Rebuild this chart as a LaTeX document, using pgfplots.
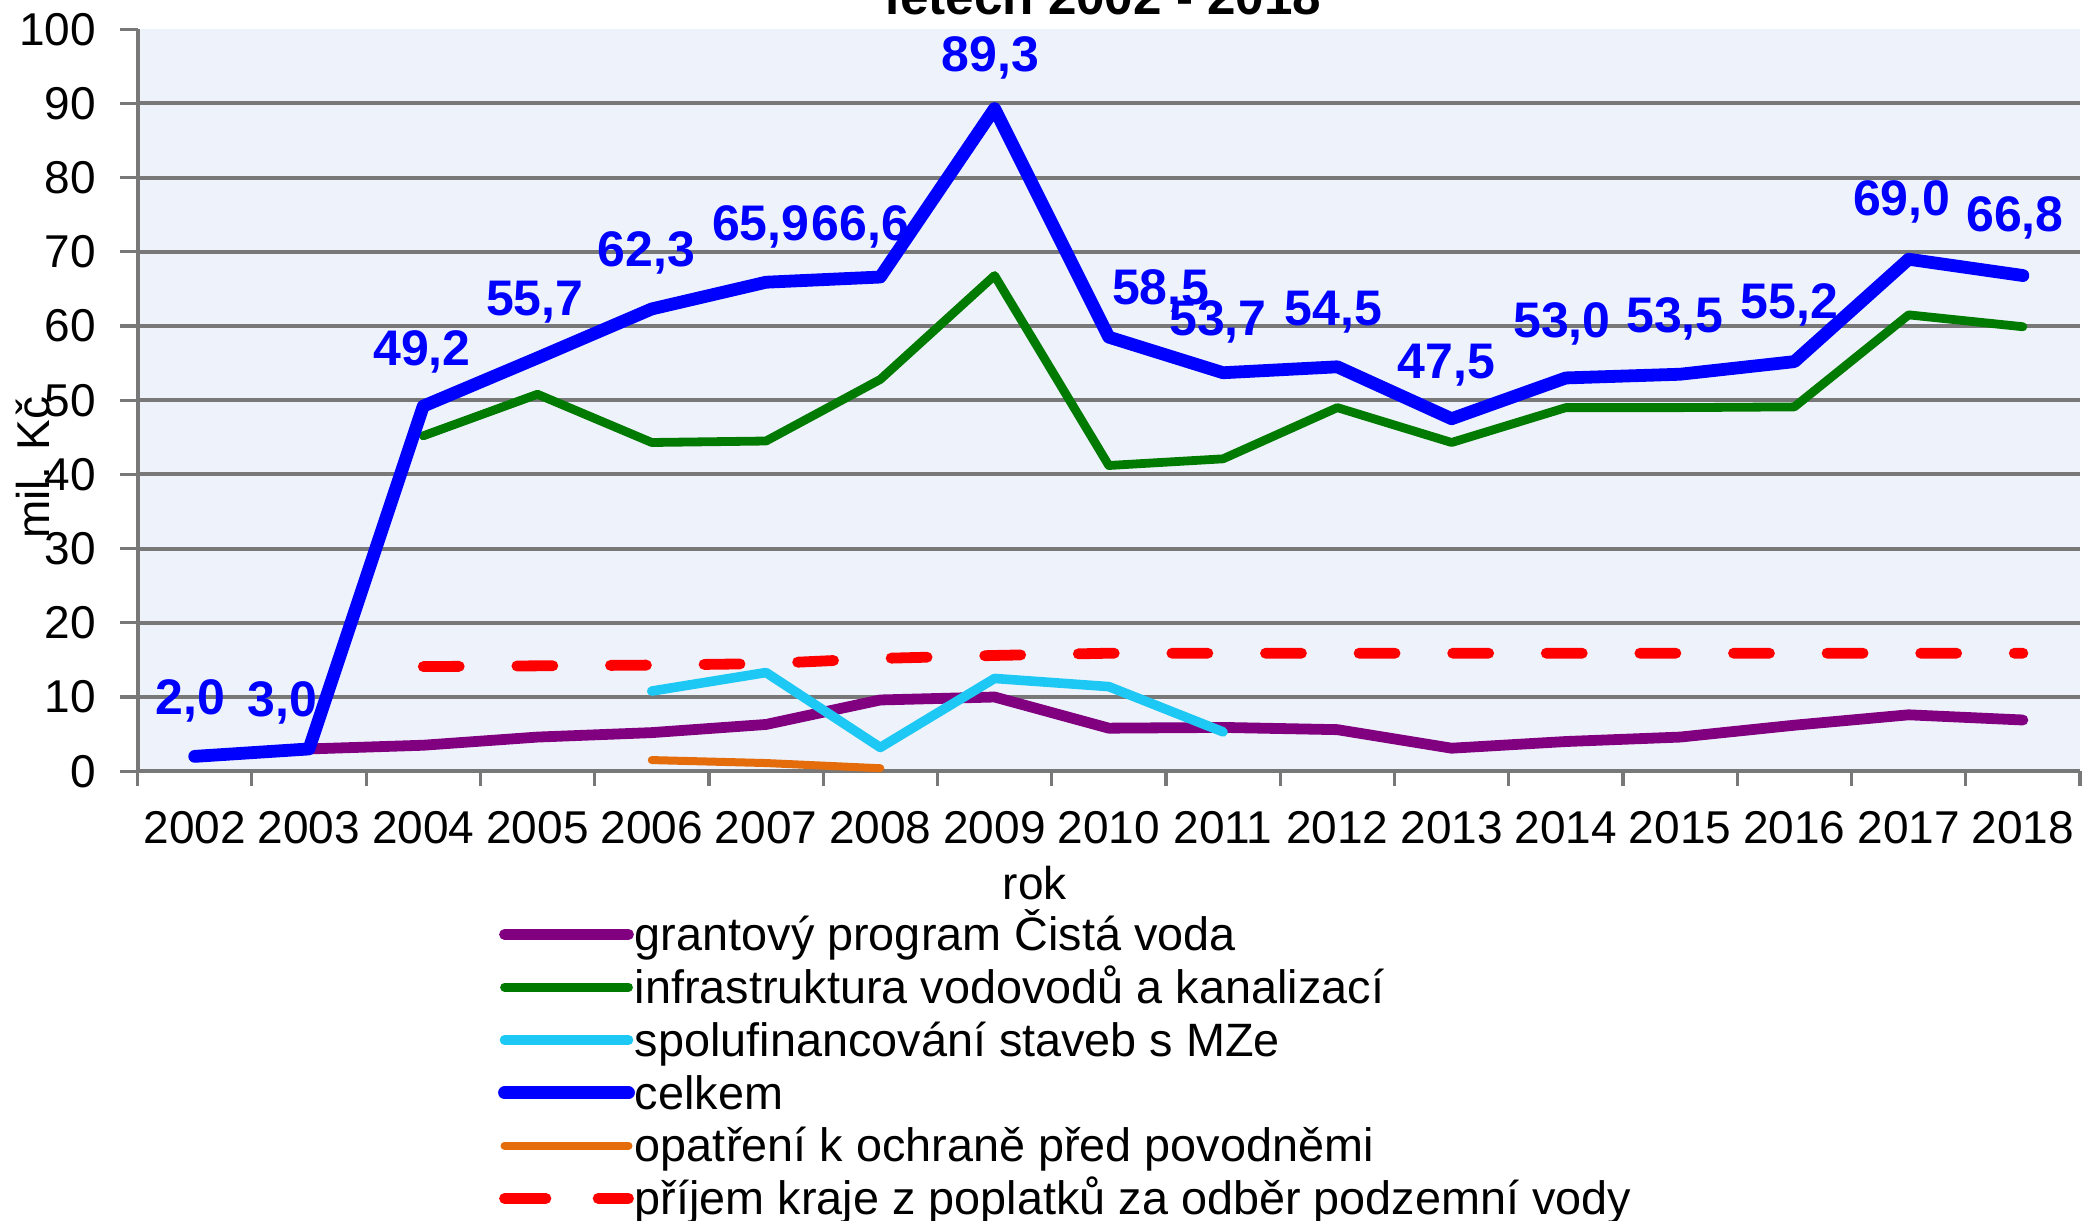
\documentclass[border=0pt]{standalone}
\usepackage{fontspec}
\setmainfont{Liberation Sans}
\usepackage{pgfplots}
\usepackage{pgfplotstable}
\pgfplotsset{compat=1.18}

\definecolor{cpurple}{RGB}{128,0,128}
\definecolor{cgreen}{RGB}{0,122,0}
\definecolor{ccyan}{RGB}{30,200,245}
\definecolor{cblue}{RGB}{0,0,255}
\definecolor{corange}{RGB}{228,108,10}
\definecolor{cred}{RGB}{255,0,0}
\definecolor{cgrid}{RGB}{120,120,120}
\definecolor{cbg}{RGB}{238,243,251}

\pgfplotstableread{
x y
1 3.0
2 3.5
3 4.6
4 5.2
5 6.3
6 9.6
7 10.0
8 5.8
9 5.9
10 5.6
11 3.1
12 4.0
13 4.6
14 6.2
15 7.6
16 6.9
}\grant

\pgfplotstableread{
x y
2 45.2
3 50.8
4 44.3
5 44.5
6 52.8
7 66.8
8 41.2
9 42.1
10 49.0
11 44.3
12 49.0
13 49.0
14 49.1
15 61.5
16 59.9
}\infra

\pgfplotstableread{
x y
4 10.8
5 13.3
6 3.2
7 12.5
8 11.4
9 5.3
}\spolu

\pgfplotstableread{
x y lab dx dy
0 2.0 {2,0} -1.0 10.5
1 3.0 {3,0} -6.6 8.2
2 49.2 {49,2} -0.3 10.2
3 55.7 {55,7} -0.7 10.5
4 62.3 {62,3} -1.3 10.5
5 65.9 {65,9} -1.3 10.4
6 66.6 {66,6} -5.0 9.1
7 89.3 {89,3} -1.0 9.2
8 58.5 {58,5} 13.0 8.1
9 53.7 {53,7} -1.3 9.3
10 54.5 {54,5} -1.0 10.4
11 47.5 {47,5} -1.3 10.0
12 53.0 {53,0} -1.0 10.0
13 53.5 {53,5} -1.3 10.5
14 55.2 {55,2} -1.3 10.7
15 69.0 {69,0} -1.7 10.9
16 66.8 {66,8} -2.0 11.0
}\celkem

\pgfplotstableread{
x y
4 1.5
5 1.1
6 0.4
}\opatreni

\pgfplotstableread{
x y
2 14.1
3 14.2
4 14.3
5 14.5
6 15.2
7 15.6
8 15.9
9 15.9
10 15.9
11 15.9
12 15.9
13 15.9
14 15.9
15 15.9
16 15.9
}\prijem

\begin{document}
\begin{tikzpicture}
\begin{axis}[
  scale only axis, width=485.6pt, height=185.5pt,
  at={(0pt,0pt)}, anchor=south west,
  xmin=-0.5, xmax=16.5, ymin=0, ymax=100,
  clip=false,
  axis x line*=bottom, axis y line*=left,
  axis line style={cgrid, line width=1.0pt},
  axis background/.style={fill=cbg},
  xtick={0,...,16},
  xticklabels={2002,2003,2004,2005,2006,2007,2008,2009,2010,2011,2012,2013,2014,2015,2016,2017,2018},
  minor xtick={-0.5,0.5,...,16.5},
  ytick={0,10,...,100},
  extra y ticks={10,20,...,90}, extra y tick labels={},
  extra y tick style={grid=major},
  grid style={cgrid, line width=1.0pt},
  tick align=outside,
  major tick length=4.4pt, minor tick length=3.7pt,
  major x tick style={draw=none},
  minor x tick style={cgrid, line width=0.8pt},
  major y tick style={cgrid, line width=0.8pt},
  tick label style={font=\fontsize{11.5}{13}\selectfont},
  /pgf/number format/assume math mode=true,
  xticklabel style={yshift=-2pt},
  yticklabel style={xshift=-2.5pt},
  legend style={at={(0.1852,-0.1935)}, anchor=north west, draw=none, fill=none,
    inner sep=0pt, row sep=1.8pt, font=\fontsize{11.7}{13}\selectfont,
    nodes={inner sep=0pt, text height=8.8pt, text depth=2.6pt}},
  legend cell align=left,
  legend image code/.code={\path (0pt,1pt) -- (31pt,1pt); \draw[#1] (1.35pt,1pt) -- (29.6pt,1pt);},
  every axis plot/.append style={line cap=round, line join=round},
]
\addplot[cpurple, line width=2.7pt] table[x=x,y=y] \grant;
\addlegendentry{grantový program Čistá voda}
\addplot[cgreen, line width=2.2pt] table[x=x,y=y] \infra;
\addlegendentry{infrastruktura vodovodů a kanalizací}
\addplot[ccyan, line width=2.4pt] table[x=x,y=y] \spolu;
\addlegendentry{spolufinancování staveb s MZe}
\addplot[cblue, line width=3.2pt,
  nodes near coords, point meta=explicit symbolic,
  visualization depends on={\thisrow{dx} \as \dx},
  visualization depends on={\thisrow{dy} \as \dy},
  every node near coord/.append style={anchor=base, inner sep=0pt,
    font=\bfseries\fontsize{12.5}{14}\selectfont, text=cblue,
    xshift=\dx pt, yshift=\dy pt}
] table[x=x,y=y,meta=lab] \celkem;
\addlegendentry{celkem}
\addplot[corange, line width=2.0pt] table[x=x,y=y] \opatreni;
\addlegendentry{opatření k ochraně před povodněmi}
\addplot[cred, line width=2.7pt, dash pattern=on 9pt off 14.4pt] table[x=x,y=y] \prijem;
\addlegendentry{příjem kraje z poplatků za odběr podzemní vody}
\end{axis}
\node[rotate=90, font=\fontsize{11.5}{13}\selectfont] at (-26.1pt,75.9pt) {mil. Kč};
\node[anchor=base, font=\fontsize{11.5}{13}\selectfont] at (224.3pt,-32.1pt) {rok};
\node[anchor=base, font=\bfseries\fontsize{12.8}{14}\selectfont] at (241.5pt,189.2pt) {letech 2002 - 2018};
\pgfresetboundingbox
\useasboundingbox (-34.4pt,-112.3pt) rectangle (489.6pt,192.8pt);
\end{tikzpicture}
\end{document}
